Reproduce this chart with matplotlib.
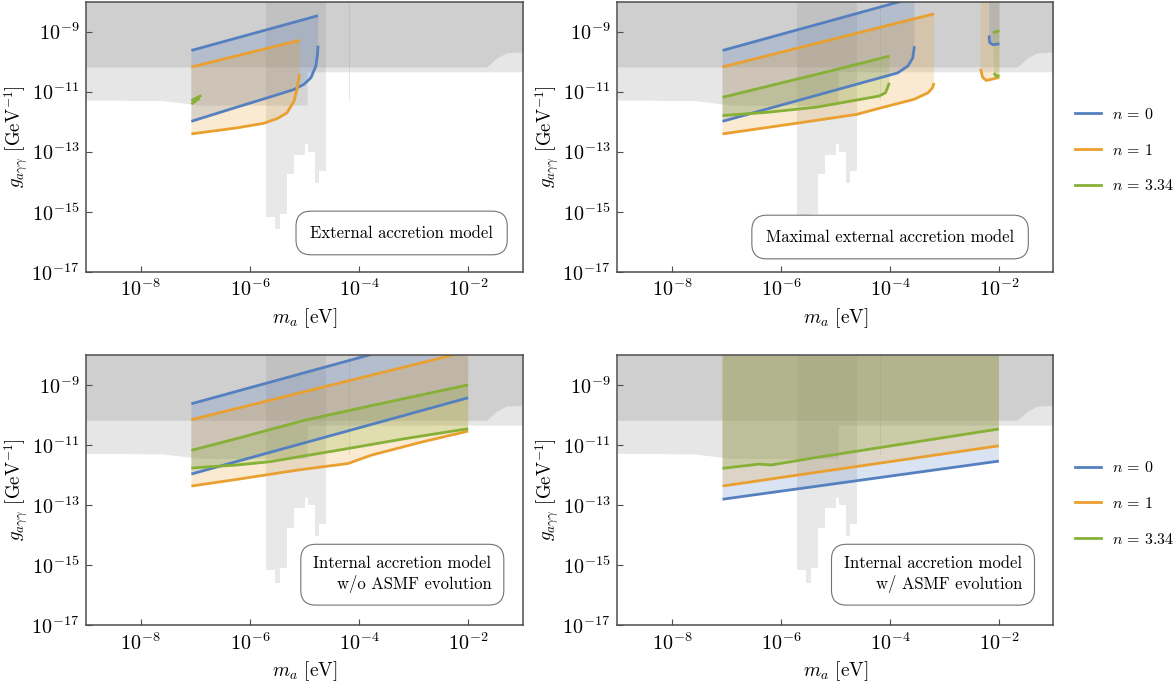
import numpy as np
import matplotlib
matplotlib.use("Agg")
import matplotlib.pyplot as plt
from matplotlib.lines import Line2D

plt.rcParams.update({
    "font.family": "serif",
    "font.serif": ["cmr10", "DejaVu Serif"],
    "mathtext.fontset": "cm",
    "axes.formatter.use_mathtext": True,
    "axes.unicode_minus": False,
})

BLUE = "#5580c0"
ORANGE = "#e9a030"
GREEN = "#86b036"

# -----------------------------
# Data (log10 m_a [eV], log10 g [GeV^-1])
# -----------------------------
# background limits
light_m = [-9.0, -7.6, -6.9, -5.0, -4.95, -4.95, -1.0]
light_g = [-11.28, -11.30, -11.45, -11.45, -11.45, -10.34, -10.34]
dark_m = [-9.0, -1.67, -1.61, -1.48, -1.30, -1.0]
dark_g = [-10.18, -10.18, -10.10, -9.88, -9.71, -9.68]
halo_m = [-5.71, -5.53, -5.44, -5.32, -5.19, -4.98, -4.93, -4.80, -4.73, -4.60]
halo_g = [-15.18, -15.59, -15.09, -13.76, -13.10, -12.76, -13.0, -14.04, -13.65]
halo_thin_m = [-4.19, -4.17]
halo_thin_g = -11.32

# External accretion model
ext0_up_m = [-7.07, -4.75]
ext0_up_g = [-9.63, -8.47]
ext0_lo_m = [-7.07, -6.24, -5.63, -5.19, -5.01, -4.88, -4.79, -4.76, -4.75]
ext0_lo_g = [-11.99, -11.52, -11.18, -10.93, -10.76, -10.54, -10.15, -9.77, -9.47]
ext1_up_m = [-7.07, -5.08]
ext1_up_g = [-10.18, -9.29]
ext1_lo_m = [-7.07, -6.24, -5.75, -5.50, -5.32, -5.19, -5.13, -5.09]
ext1_lo_g = [-12.41, -12.21, -12.06, -11.90, -11.71, -11.32, -10.88, -10.41]
ext3_up_m = [-7.07, -6.89]
ext3_up_g = [-11.30, -11.13]
ext3_lo_m = [-7.07, -6.92]
ext3_lo_g = [-11.42, -11.22]

# Maximal external accretion model
max0_up_m = [-7.07, -3.55]
max0_up_g = [-9.63, -7.87]
max0_lo_m = [-7.07, -3.86, -3.67, -3.58, -3.55]
max0_lo_g = [-11.99, -10.38, -10.15, -9.88, -9.49]
max1_up_m = [-7.07, -3.19]
max1_up_g = [-10.18, -8.41]
max1_lo_m = [-7.07, -5.73, -4.61, -4.16, -3.56, -3.30, -3.22, -3.19]
max1_lo_g = [-12.41, -12.06, -11.76, -11.54, -11.26, -11.04, -10.88, -10.71]
max3_up_m = [-7.07, -6.10, -5.35, -4.01]
max3_up_g = [-11.19, -10.76, -10.43, -9.82]
max3_lo_m = [-7.07, -6.25, -5.35, -4.20, -4.08, -4.01]
max3_lo_g = [-11.80, -11.69, -11.52, -11.15, -11.04, -10.71]
# high-mass islands
isl0_m = [-2.18, -2.17, -2.11, -1.99]
isl0_g = [-9.13, -9.36, -9.44, -9.41]
isl1_m = [-2.335, -2.30, -2.23, -2.02, -1.99]
isl1_g = [-10.24, -10.52, -10.63, -10.54, -10.54]
isl3_up_m = [-2.11, -1.99]
isl3_up_g = [-9.04, -8.97]
isl3_lo_m = [-2.09, -2.05, -1.99]
isl3_lo_g = [-10.38, -10.49, -10.46]

# Internal accretion model, w/o ASMF evolution
int0_up_m = [-7.07, -2.0]
int0_up_g = [-9.63, -7.10]
int0_lo_m = [-7.07, -2.0]
int0_lo_g = [-11.97, -9.43]
int1_up_m = [-7.07, -2.0]
int1_up_g = [-10.16, -7.88]
int1_lo_m = [-7.07, -6.24, -5.13, -4.20, -3.77, -2.84, -2.0]
int1_lo_g = [-12.37, -12.15, -11.84, -11.62, -11.34, -10.90, -10.54]
int3_up_m = [-7.07, -6.24, -5.0, -3.77, -2.0]
int3_up_g = [-11.18, -10.79, -10.18, -9.69, -9.0]
int3_lo_m = [-7.07, -6.24, -5.63, -4.39, -3.15, -2.0]
int3_lo_g = [-11.77, -11.67, -11.56, -11.18, -10.79, -10.46]

# Internal accretion model, w/ ASMF evolution
asm0_m = [-7.07, -2.0]
asm0_g = [-12.81, -11.54]
asm1_m = [-7.07, -2.0]
asm1_g = [-12.37, -11.03]
asm3_m = [-7.07, -6.40, -6.18, -5.35, -2.0]
asm3_g = [-11.78, -11.64, -11.67, -11.42, -10.47]

TOP = -8.0


def p(v):
    return 10.0 ** np.asarray(v, dtype=float)


def background(ax):
    ax.fill_between(p(light_m), p(light_g), 10 ** TOP, color="#e6e6e6", lw=0, zorder=0)
    ax.fill_between(p(dark_m), p(dark_g), 10 ** TOP, color="#cfcfcf", lw=0, zorder=0.5)
    ax.fill_between(p(halo_m), p(halo_g + [halo_g[-1]]), 10 ** TOP, step="post",
                    color="0.55", alpha=0.2, lw=0, zorder=1)
    ax.fill_between(p(halo_thin_m), 10 ** halo_thin_g, 10 ** TOP,
                    color="0.55", alpha=0.2, lw=0, zorder=1)


def band(ax, mu, gu, ml, gl, color, upper_line=True, lower_line=True):
    xs = list(mu) + list(ml)[::-1]
    ys = list(gu) + list(gl)[::-1]
    ax.fill(p(xs), p(ys), color=color, alpha=0.22, lw=0, zorder=2)
    if upper_line:
        ax.plot(p(mu), p(gu), color=color, lw=2, zorder=3, solid_capstyle="butt")
    if lower_line:
        ax.plot(p(ml), p(gl), color=color, lw=2, zorder=3, solid_capstyle="butt")


def to_top(m):
    return [m[-1], m[0]], [TOP + 0.2, TOP + 0.2]


def style(ax):
    ax.set_xscale("log")
    ax.set_yscale("log")
    ax.set_xlim(1e-9, 1e-1)
    ax.set_ylim(1e-17, 1e-8)
    ax.set_xticks([1e-8, 1e-6, 1e-4, 1e-2])
    ax.set_yticks([1e-17, 1e-15, 1e-13, 1e-11, 1e-9])
    ax.minorticks_off()
    ax.tick_params(direction="in", length=4, width=0.8, labelsize=14.5, color="0.3", pad=5)
    for s in ax.spines.values():
        s.set_color("0.3")
        s.set_linewidth(1.1)
        s.set_zorder(5)
    ax.set_xlabel(r"$m_a$ [eV]", fontsize=14, labelpad=4)
    ax.set_ylabel(r"$g_{a\gamma\gamma}$ [GeV$^{-1}$]", fontsize=13.5, labelpad=1)


def label_box(ax, text, x, y, pad=0.85):
    ax.text(x, y, text, transform=ax.transAxes, ha="right", va="bottom", fontsize=12,
            multialignment="right", linespacing=1.25, zorder=6,
            bbox=dict(boxstyle="round,pad=%.2f,rounding_size=0.9" % pad,
                      fc="white", ec="0.45", lw=0.8))


fig = plt.figure(figsize=(11.75, 6.94), dpi=100)
axTL = fig.add_axes([0.0732, 0.6085, 0.3717, 0.3893])
axTR = fig.add_axes([0.5254, 0.6085, 0.3711, 0.3893])
axBL = fig.add_axes([0.0732, 0.0994, 0.3717, 0.3893])
axBR = fig.add_axes([0.5254, 0.0994, 0.3711, 0.3893])

for ax in (axTL, axTR, axBL, axBR):
    background(ax)
    style(ax)

# External accretion
band(axTL, ext0_up_m, ext0_up_g, ext0_lo_m, ext0_lo_g, BLUE)
band(axTL, ext1_up_m, ext1_up_g, ext1_lo_m, ext1_lo_g, ORANGE)
band(axTL, ext3_up_m, ext3_up_g, ext3_lo_m, ext3_lo_g, GREEN)
label_box(axTL, "External accretion model", 0.932, 0.115)

# Maximal external accretion
band(axTR, max0_up_m, max0_up_g, max0_lo_m, max0_lo_g, BLUE)
band(axTR, max1_up_m, max1_up_g, max1_lo_m, max1_lo_g, ORANGE)
band(axTR, max3_up_m, max3_up_g, max3_lo_m, max3_lo_g, GREEN)
tm, tg = to_top(isl1_m)
band(axTR, tm[::-1], tg, isl1_m, isl1_g, ORANGE, upper_line=False)
tm, tg = to_top(isl0_m)
band(axTR, tm[::-1], tg, isl0_m, isl0_g, BLUE, upper_line=False)
band(axTR, isl3_up_m, isl3_up_g, isl3_lo_m, isl3_lo_g, GREEN)
label_box(axTR, "Maximal external accretion model", 0.91, 0.10)

# Internal accretion w/o ASMF evolution
band(axBL, int0_up_m, int0_up_g, int0_lo_m, int0_lo_g, BLUE)
band(axBL, int1_up_m, int1_up_g, int1_lo_m, int1_lo_g, ORANGE)
band(axBL, int3_up_m, int3_up_g, int3_lo_m, int3_lo_g, GREEN)
label_box(axBL, "Internal accretion model\nw/o ASMF evolution", 0.928, 0.12, pad=0.75)

# Internal accretion w/ ASMF evolution
for m, g, c in ((asm0_m, asm0_g, BLUE), (asm1_m, asm1_g, ORANGE), (asm3_m, asm3_g, GREEN)):
    tm, tg = to_top(m)
    band(axBR, tm[::-1], tg, m, g, c, upper_line=False)
label_box(axBR, "Internal accretion model\nw/ ASMF evolution", 0.928, 0.12, pad=0.75)

handles = [Line2D([], [], color=BLUE, lw=2), Line2D([], [], color=ORANGE, lw=2),
           Line2D([], [], color=GREEN, lw=2)]
labels = [r"$n\,=\,0$", r"$n\,=\,1$", r"$n\,=\,3.34$"]
for ax in (axTR, axBR):
    ax.legend(handles, labels, loc="center left", bbox_to_anchor=(1.035, 0.45),
              frameon=False, fontsize=11.5, labelspacing=1.3, handlelength=1.6,
              handletextpad=0.7, borderaxespad=0)

fig.savefig("out.png", dpi=100)
